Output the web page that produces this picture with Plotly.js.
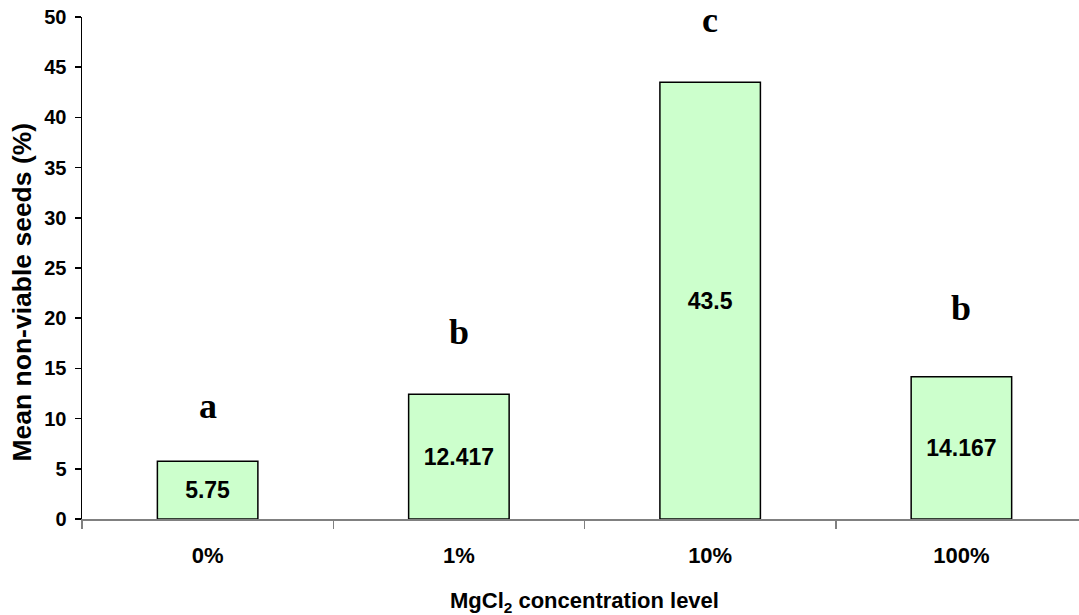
<!DOCTYPE html>
<html>
<head>
<meta charset="utf-8">
<script src="https://cdn.plot.ly/plotly-3.0.1.min.js"></script>
<style>html,body{margin:0;padding:0;background:#fff;}#chart{width:1079px;height:615px;}</style>
</head>
<body>
<div id="chart"></div>
<script>
const categories = ["0%", "1%", "10%", "100%"];
const meanNonViable = [5.75, 12.417, 43.5, 14.167];
const valueLabels = ["5.75", "12.417", "43.5", "14.167"];
const groupLetters = ["a", "b", "c", "b"];
const letterHeights = [11.3, 18.6, 49.7, 21.0];
const yTitleText = "Mean non-viable seeds (%)";
const xTitleText = "MgCl<sub>2</sub> concentration level";

const trace = {
  type: "bar",
  x: categories,
  y: meanNonViable,
  width: 0.4,
  text: valueLabels,
  texttemplate: "%{text}",
  textposition: "inside",
  insidetextanchor: "middle",
  textangle: 0,
  constraintext: "none",
  textfont: {family: "Liberation Sans, Arial, sans-serif", size: 23, color: "#000", weight: "bold"},
  marker: {color: "#CCFFCC", line: {color: "#000", width: 1.5}},
  hoverinfo: "none"
};

const annotations = categories.map((c, i) => ({
  x: c, y: letterHeights[i], xref: "x", yref: "y",
  text: groupLetters[i], showarrow: false,
  font: {family: "Liberation Serif, Times New Roman, serif", size: 36, color: "#000", weight: "bold"}
}));
annotations.push({
  xref: "paper", yref: "paper", x: -0.0602, y: 0.453,
  xanchor: "center", yanchor: "middle", textangle: -90, showarrow: false,
  text: yTitleText,
  font: {family: "Liberation Sans, Arial, sans-serif", size: 26.5, color: "#000", weight: "bold"}
});
annotations.push({
  xref: "paper", yref: "paper", x: 0.5045, y: -0.165,
  xanchor: "center", yanchor: "middle", showarrow: false,
  text: xTitleText,
  font: {family: "Liberation Sans, Arial, sans-serif", size: 22, color: "#000", weight: "bold"}
});

const layout = {
  width: 1079, height: 615,
  margin: {l: 82, r: 0, t: 17, b: 96},
  paper_bgcolor: "#fff", plot_bgcolor: "#fff",
  showlegend: false,
  xaxis: {
    type: "category",
    range: [-0.5, 3.468],
    showline: true, linecolor: "#808080", linewidth: 1.5,
    ticks: "outside", tickson: "boundaries", ticklen: 8, tickcolor: "#808080", tickwidth: 1.5,
    ticklabelstandoff: 16,
    showgrid: false, zeroline: false,
    tickfont: {family: "Liberation Sans, Arial, sans-serif", size: 22, color: "#000", weight: "bold"},
    fixedrange: true
  },
  yaxis: {
    range: [0, 50], dtick: 5,
    showline: true, linecolor: "#000", linewidth: 1.5,
    ticks: "outside", ticklen: 6, tickcolor: "#000", tickwidth: 1.5,
    ticklabelstandoff: 4,
    showgrid: false, zeroline: false,
    tickfont: {family: "Liberation Sans, Arial, sans-serif", size: 20, color: "#000", weight: "bold"},
    fixedrange: true
  },
  annotations: annotations
};

Plotly.newPlot("chart", [trace], layout, {displayModeBar: false, staticPlot: true});
</script>
</body>
</html>
